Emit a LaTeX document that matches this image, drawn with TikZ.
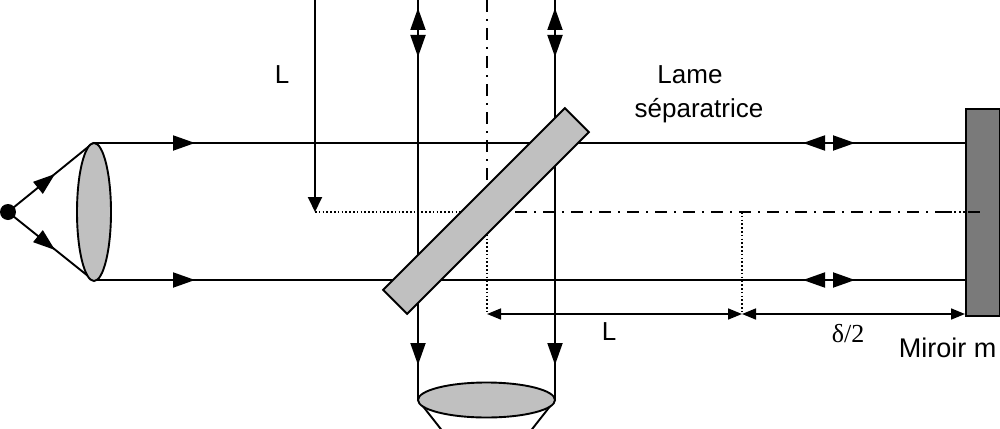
\documentclass[tikz,border=0pt]{standalone}
\usepackage{fontspec}
\setmainfont{Liberation Sans}
\newfontfamily\serifface{Liberation Serif}
\usetikzlibrary{arrows.meta,shapes.geometric}
\definecolor{lensgray}{HTML}{C0C0C0}
\definecolor{mirrorgray}{HTML}{7A7A7A}
\begin{document}
\begin{tikzpicture}[x=1pt,y=-1pt, line width=1.9pt,
  bigtip/.style={-{Triangle[length=22pt,width=15pt]}},
  midtip/.style={-{Triangle[length=15pt,width=14pt]}},
  dimtips/.style={{Triangle[length=14pt,width=11pt]}-{Triangle[length=14pt,width=11pt]}},
  dashdot/.style={dash pattern=on 12pt off 7pt on 2pt off 7pt, line width=1.6pt},
  dotline/.style={dash pattern=on 1.6pt off 2.2pt, line width=1.6pt},
  lbl/.style={font=\fontsize{26pt}{30pt}\selectfont, inner sep=0pt, anchor=base},
  optic/.style={draw, fill=lensgray, line width=1.9pt}]
\useasboundingbox (0,0) rectangle (1000,428);
\clip (0,0) rectangle (1000,428);

% key points
\coordinate (src) at (8,212);
\coordinate (lenstop) at (93,143);
\coordinate (lensbot) at (93,280);
\coordinate (mtop) at (965,143);
\coordinate (mbot) at (965,280);
\coordinate (vLtop) at (315,0);
\coordinate (vLend) at (315,212);
\coordinate (axc) at (487,212);
\coordinate (axtop) at (487,0);
\coordinate (axright) at (982,212);
\coordinate (dimA) at (487,314);
\coordinate (dimB) at (742,314);
\coordinate (dimBtop) at (742,212);
\coordinate (dimC) at (965,314);
\coordinate (vAtop) at (418,0);
\coordinate (vAbot) at (418,400);
\coordinate (vBtop) at (555,0);
\coordinate (vBbot) at (555,400);
\coordinate (focus) at (486.5,487);

% axes and construction lines
\draw[dotline] (vLend) -- (axc);
\draw[dashdot] (axtop) -- (axc);
\draw[dashdot] (axc) -- (axright);
\draw[dotline] (axc) -- (dimA);
\draw[dotline] (dimBtop) -- (dimB);

% mirror
\node[draw, fill=mirrorgray, line width=1.9pt, minimum width=34pt, minimum height=207pt, inner sep=0pt, anchor=north west] (mirror) at (965,108) {};
\draw[dashdot] (940,212) -- (axright);

% source and diverging rays
\fill (src) circle (8pt);
\draw (src) -- (lenstop);
\draw (src) -- (lensbot);
\draw[bigtip] (37.9,187.9) -- (55,174);
\draw[bigtip] (37.9,236.1) -- (55,250);

% collimated beams
\draw (lenstop) -- (mtop);
\draw (lensbot) -- (mbot);
\draw[bigtip] (173,143) -- (195,143);
\draw[bigtip] (173,280) -- (195,280);
\draw[bigtip] (825,143) -- (803,143);
\draw[bigtip] (833,143) -- (855,143);
\draw[bigtip] (825,280) -- (803,280);
\draw[bigtip] (833,280) -- (855,280);

% left lens
\node[optic, ellipse, minimum width=34pt, minimum height=138pt, inner sep=0pt] (lens1) at (94,212) {};

% L arrow
\draw[midtip] (vLtop) -- (vLend);

% vertical beams
\draw (vAtop) -- (vAbot);
\draw (vBtop) -- (vBbot);
\draw[bigtip] (418,30) -- (418,8);
\draw[bigtip] (418,37) -- (418,57);
\draw[bigtip] (555,30) -- (555,8);
\draw[bigtip] (555,37) -- (555,57);
\draw[bigtip] (418,343) -- (418,365);
\draw[bigtip] (555,343) -- (555,365);

% converging rays and bottom lens
\draw (vAbot) -- (focus);
\draw (vBbot) -- (focus);
\node[optic, ellipse, minimum width=137pt, minimum height=35pt, inner sep=0pt] (lens2) at (486.5,400) {};

% beam splitter
\node[optic, minimum width=257pt, minimum height=34pt, inner sep=0pt, rotate=45] (plate) at (486,211) {};

% dimension lines
\draw[dimtips, line width=1.6pt] (dimA) -- (dimB);
\draw[dimtips, line width=1.6pt] (dimB) -- (dimC);

% labels
\node[lbl] (labL) at (282,83) {L};
\node[lbl] (labLame) at (690,83) {Lame};
\node[lbl] (labSep) at (699,117) {séparatrice};
\node[lbl] (labL2) at (609,340) {L};
\node[lbl, font=\serifface\fontsize{26pt}{30pt}\selectfont] (labDelta) at (848,342) {δ/2};
\node[lbl, anchor=base west, font=\fontsize{27pt}{31pt}\selectfont] (labMir) at (898,357) {Miroir m};
\end{tikzpicture}
\end{document}
